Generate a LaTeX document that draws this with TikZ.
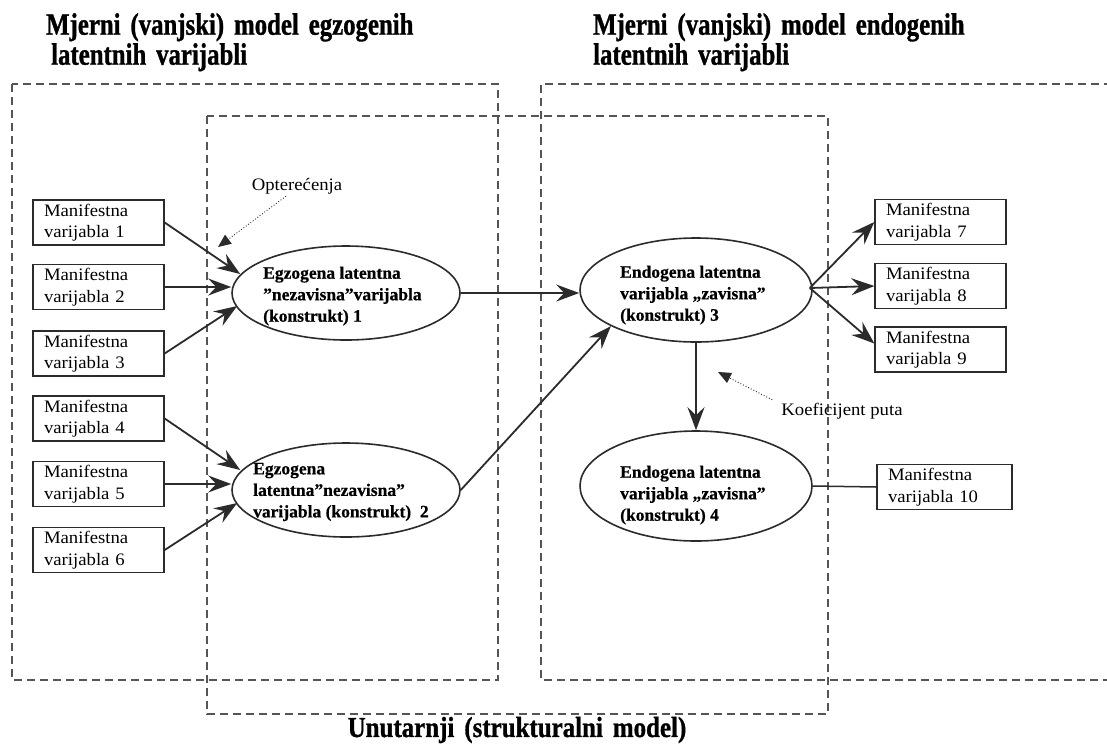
\documentclass[tikz,border=0pt]{standalone}
\usepackage{fontspec}
\setmainfont{Liberation Serif}
\newfontfamily\boxfont[FakeStretch=1.07]{Liberation Serif}
\newfontfamily\elfont[FakeBold=0.6]{Liberation Serif}
\newfontfamily\titlefont[FakeStretch=0.8,WordSpace=1.6,FakeBold=1.0]{Liberation Serif}
\newfontfamily\subfont[FakeStretch=0.86,WordSpace=1.6,FakeBold=1.0]{Liberation Serif}
\usetikzlibrary{shapes.geometric,arrows.meta,calc}
\definecolor{ln}{HTML}{2B2B2B}
\definecolor{dsh}{HTML}{555555}
\begin{document}
\begin{tikzpicture}[x=1pt,y=-1pt,
  mvbox/.style={draw=ln, line width=1.3pt, minimum height=45pt, inner xsep=11pt, inner ysep=0pt,
    text width=109pt, align=left, font=\boxfont\fontsize{17.5}{21.5}\selectfont},
  latent/.style={ellipse, draw=ln, line width=1.6pt, inner sep=0pt},
  ltext/.style={anchor=west, align=left, inner sep=0pt,
    font=\elfont\bfseries\fontsize{17.5}{21.5}\selectfont},
  dbox/.style={draw=dsh, line width=1.3pt, dash pattern=on 8pt off 5pt},
  arr/.style={draw=ln, line width=1.8pt, -{Stealth[length=23pt,width=17pt,inset=8pt]}},
  plain/.style={draw=ln, line width=1.5pt},
  ptr/.style={draw=ln, line width=0.9pt, dotted, -{Triangle[length=13pt,width=11pt]}},
  lbl/.style={font=\boxfont\fontsize{17.5}{21.5}\selectfont, inner sep=0pt},
  ttl/.style={font=\titlefont\bfseries\fontsize{31}{30}\selectfont, align=left, inner sep=0pt}
]
\useasboundingbox (0,0) rectangle (1107,745);
\fill[white] (0,0) rectangle (1107,745);

% dashed frames
\draw[dbox] (12,84) rectangle (498,680);
\draw[dbox] (1112,84) -- (541,84) -- (541,680) -- (1112,680);
\draw[dbox] (207,116) rectangle (828,714);

% titles
\node[ttl, anchor=north west] (t1) at (46,13) {Mjerni (vanjski) model egzogenih\\\hspace*{5pt}latentnih varijabli};
\node[ttl, anchor=north west] (t2) at (593,13) {Mjerni (vanjski) model endogenih\\latentnih varijabli};
\node[ttl, font=\subfont\bfseries\fontsize{29}{30}\selectfont] (t3) at (517,730) {Unutarnji (strukturalni model)};

% manifest variables
\node[mvbox] (mv1) at (98.5,222.5) {Manifestna\\varijabla 1};
\node[mvbox] (mv2) at (98.5,287) {Manifestna\\varijabla 2};
\node[mvbox] (mv3) at (98.5,353.5) {Manifestna\\varijabla 3};
\node[mvbox] (mv4) at (98.5,418.5) {Manifestna\\varijabla 4};
\node[mvbox] (mv5) at (98.5,484) {Manifestna\\varijabla 5};
\node[mvbox] (mv6) at (98.5,550) {Manifestna\\varijabla 6};
\node[mvbox] (mv7) at (940.5,222) {Manifestna\\varijabla 7};
\node[mvbox] (mv8) at (940.5,286) {Manifestna\\varijabla 8};
\node[mvbox] (mv9) at (940.5,349.5) {Manifestna\\varijabla 9};
\node[mvbox, text width=113pt] (mv10) at (944.5,487) {Manifestna\\varijabla 10};

% latent variables
\node[latent, minimum width=228pt, minimum height=94pt] (e1) at (346,293) {};
\node[latent, minimum width=228pt, minimum height=94pt] (e2) at (346,490) {};
\node[latent, minimum width=232pt, minimum height=104pt] (e3) at (696,290) {};
\node[latent, minimum width=232pt, minimum height=110pt] (e4) at (696,486) {};
\node[ltext] (e1t) at (263,296) {Egzogena latentna\\”nezavisna”varijabla\\(konstrukt) 1};
\node[ltext] (e2t) at (253,492) {Egzogena\\latentna”nezavisna”\\varijabla (konstrukt)\ \ 2};
\node[ltext] (e3t) at (620,295) {Endogena latentna\\varijabla „zavisna”\\(konstrukt) 3};
\node[ltext] (e4t) at (620,495) {Endogena latentna\\varijabla „zavisna”\\(konstrukt) 4};

% loadings (exogenous)
\draw[arr] (mv1.east) -- ($(e1.west)+(9,-19)$);
\draw[arr] (mv2.east) -- (e1.west |- mv2.east);
\draw[arr] (mv3.east) -- ($(e1.west)+(6,13)$);
\draw[arr] (mv4.east) -- ($(e2.west)+(9,-20)$);
\draw[arr] (mv5.east) -- (e2.west |- mv5.east);
\draw[arr] (mv6.east) -- ($(e2.west)+(6,13)$);

% structural paths
\draw[arr] (e1.east) -- (e3.west |- e1.east);
\draw[arr] (e2.east) -- (e3.203);
\draw[arr] (e3.south) -- (e4.north);

% loadings (endogenous)
\coordinate (e3r) at ($(e3.east)+(-3,-2)$);
\draw[arr] (e3r) -- (mv7.west);
\draw[arr] (e3r) -- (mv8.west);
\draw[arr] (e3r) -- ($(mv9.west)+(0,-6)$);
\draw[plain] (e4.east) -- (mv10.west);

% annotations
\node[lbl] (opt) at (297,186) {Optere\'cenja};
\coordinate (opttip) at (218,247);
\draw[ptr] ($(opt.south)+(-11,2)$) -- (opttip);
\node[lbl] (koef) at (842,411) {Koeficijent puta};
\coordinate (koeftip) at (718,372);
\draw[ptr] ($(koef.north west)+(-9,-3)$) -- (koeftip);
\end{tikzpicture}
\end{document}
